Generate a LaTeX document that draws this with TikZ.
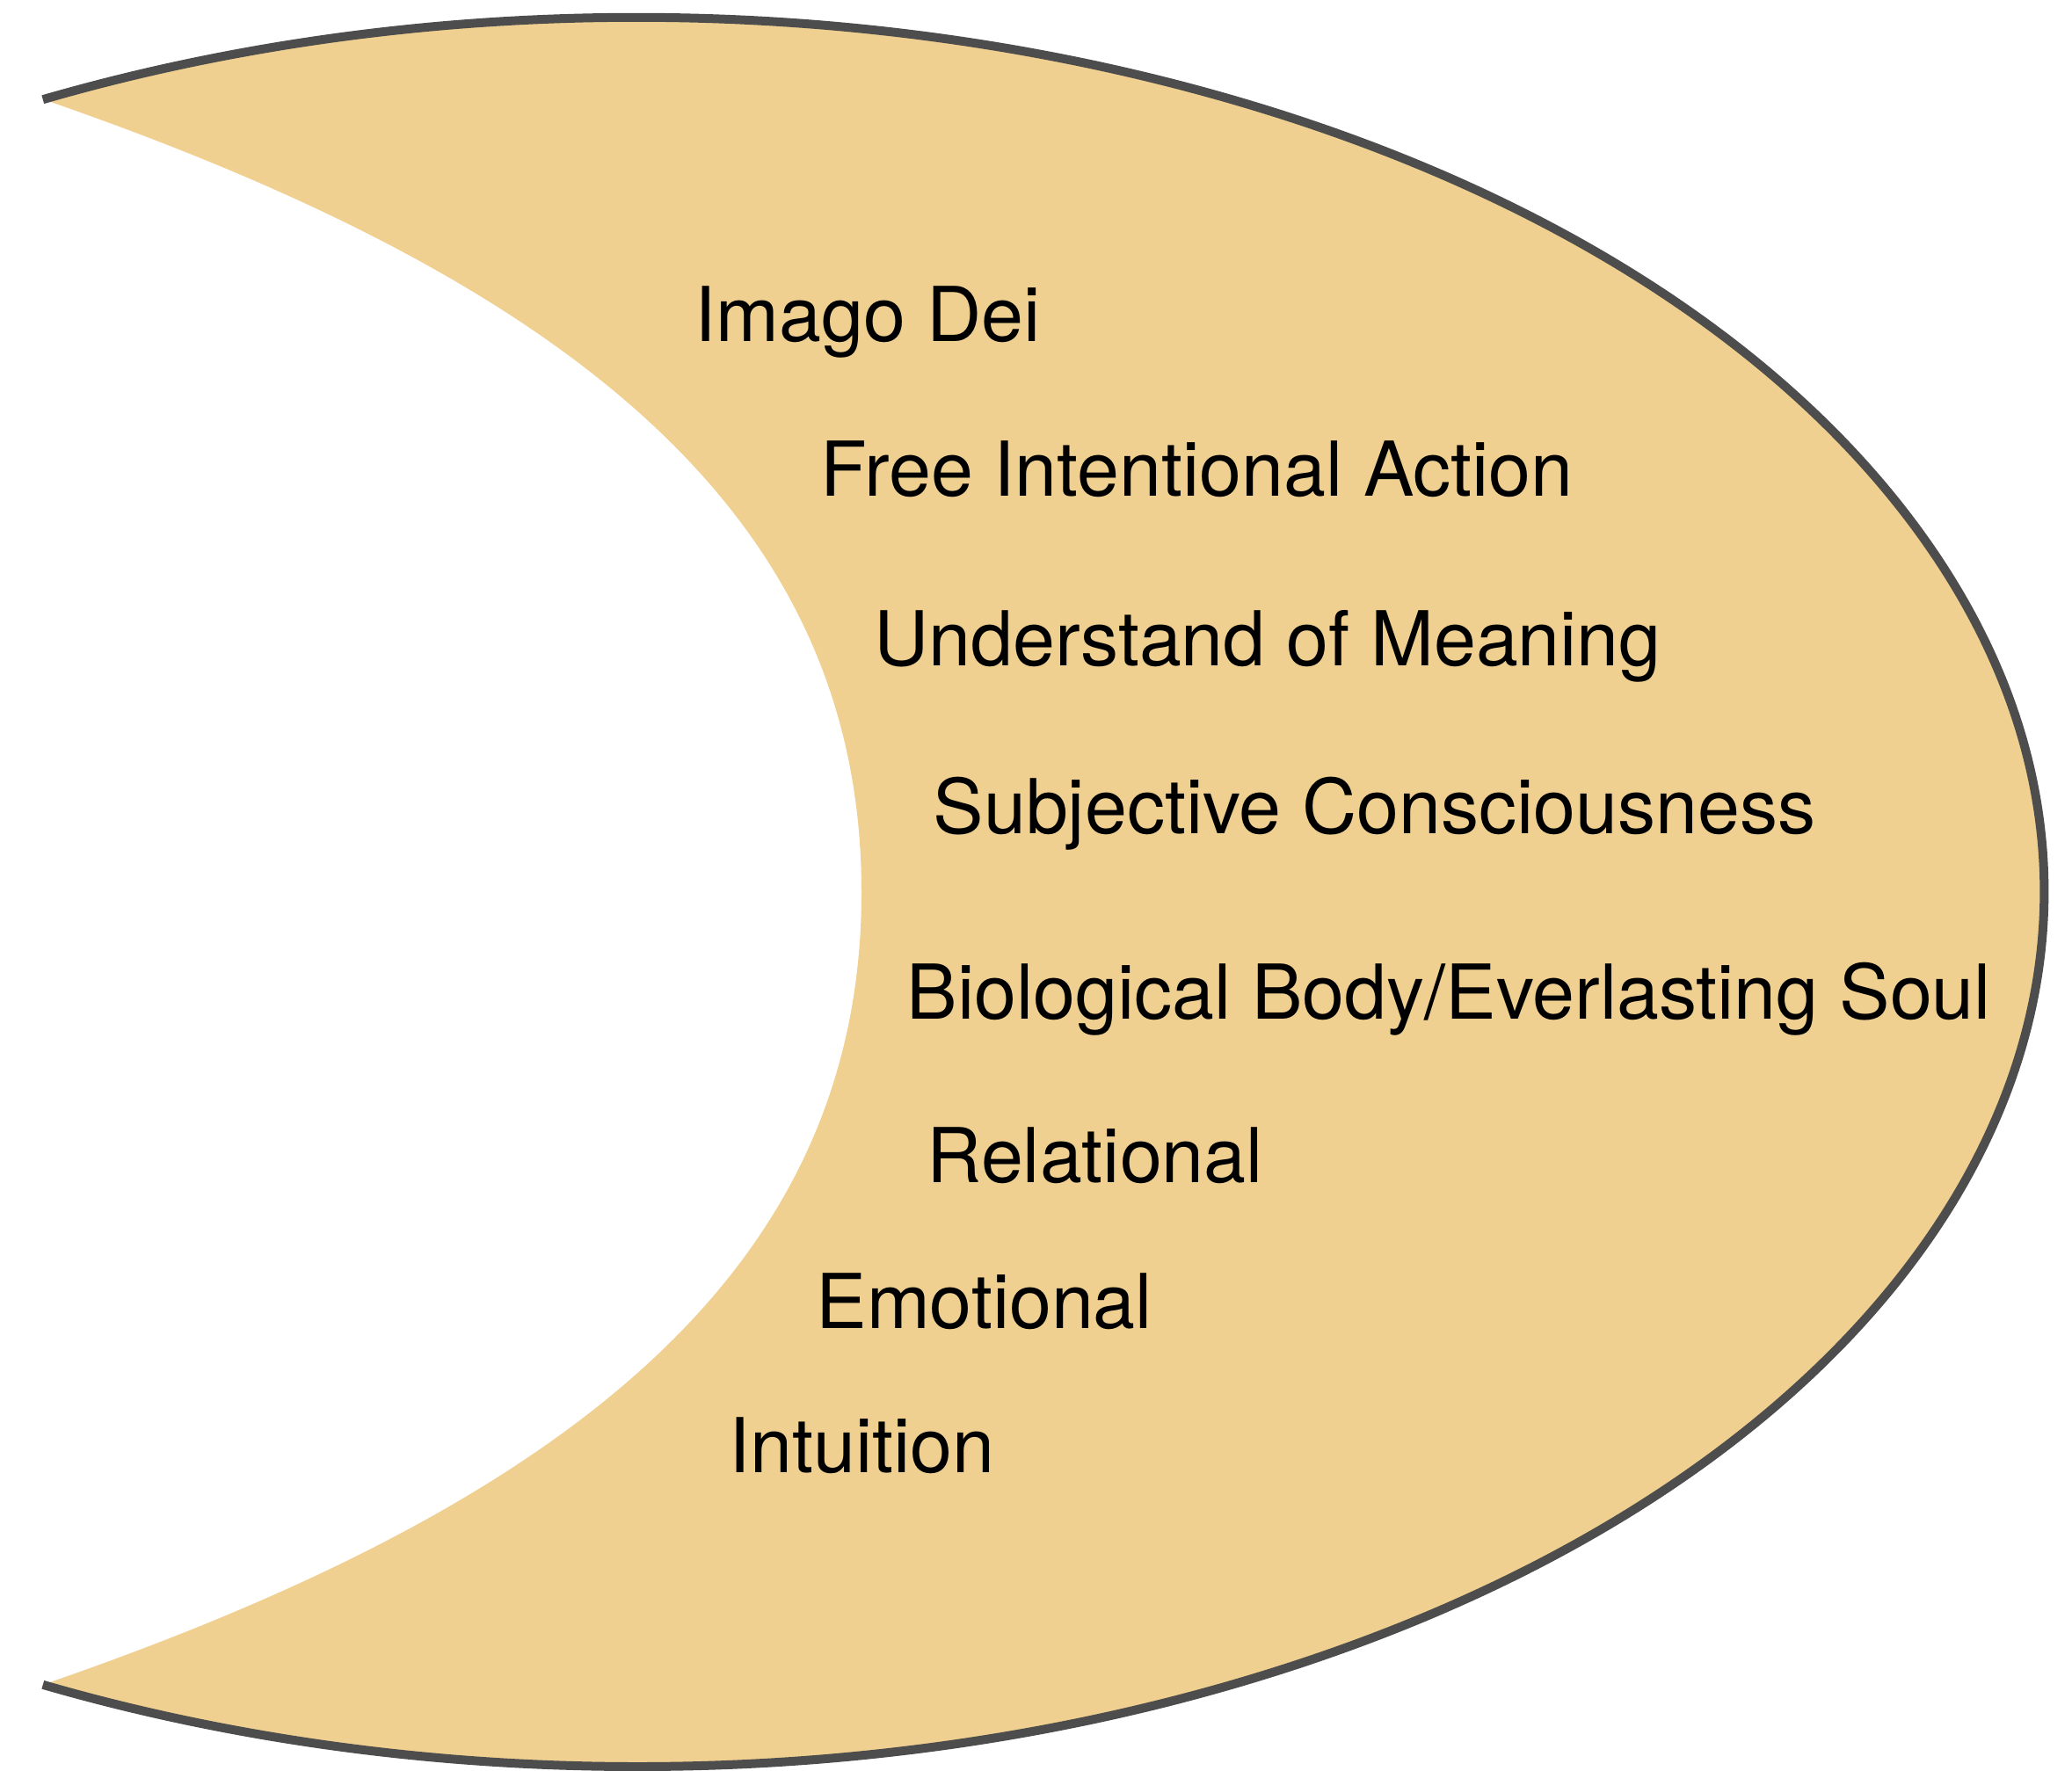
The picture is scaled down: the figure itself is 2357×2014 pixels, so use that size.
\documentclass[tikz,border=0pt]{standalone}
\usepackage{fontspec}
\setmainfont{TeX Gyre Heros}
\usetikzlibrary{calc}
\definecolor{moonfill}{RGB}{239,208,144}
\definecolor{moonline}{RGB}{77,77,77}
\tikzset{lbl/.style={anchor=base west, inner sep=0pt, font=\fontsize{24.5}{29}\selectfont}}

\begin{document}
\begin{tikzpicture}[x=0.01cm, y=-0.01cm]
	%%%%% START %%%%%
	\def\cx{725}
	\def\cy{1015}
	\def\rx{1600}
	\def\ry{995}
	\def\tip{115}
	\def\xin{980}
	\def\width{0.1cm}
	
	\useasboundingbox (0,0) rectangle (2357,2014);
	
	%crescent body
	\fill[moonfill] ($(\cx,\cy)+({\rx*cos(-\tip)},{\ry*sin(-\tip)})$) arc[start angle=-\tip, end angle=\tip, x radius=\rx, y radius=\ry]
		.. controls (664,1705) and (\xin,1435) .. (\xin,\cy)
		.. controls (\xin,595) and (664,325) .. (49,113) -- cycle;
	
	%outer rim only
	\draw[moonline, line width=\width] ($(\cx,\cy)+({\rx*cos(-\tip)},{\ry*sin(-\tip)})$) arc[start angle=-\tip, end angle=\tip, x radius=\rx, y radius=\ry];
	
	\node[lbl] (imago) at (790,388) {Imago Dei};
	\node[lbl] (free) at (933,564) {Free Intentional Action};
	\node[lbl] (meaning) at (994,757) {Understand of Meaning};
	\node[lbl] (subj) at (1061,948) {Subjective Consciousness};
	\node[lbl] (bio) at (1031,1159) {Biological Body/Everlasting Soul};
	\node[lbl] (rel) at (1054,1345) {Relational};
	\node[lbl] (emo) at (928,1511) {Emotional};
	\node[lbl] (intu) at (829,1675) {Intuition};
	%%%%% START %%%%%
\end{tikzpicture}
\end{document}
